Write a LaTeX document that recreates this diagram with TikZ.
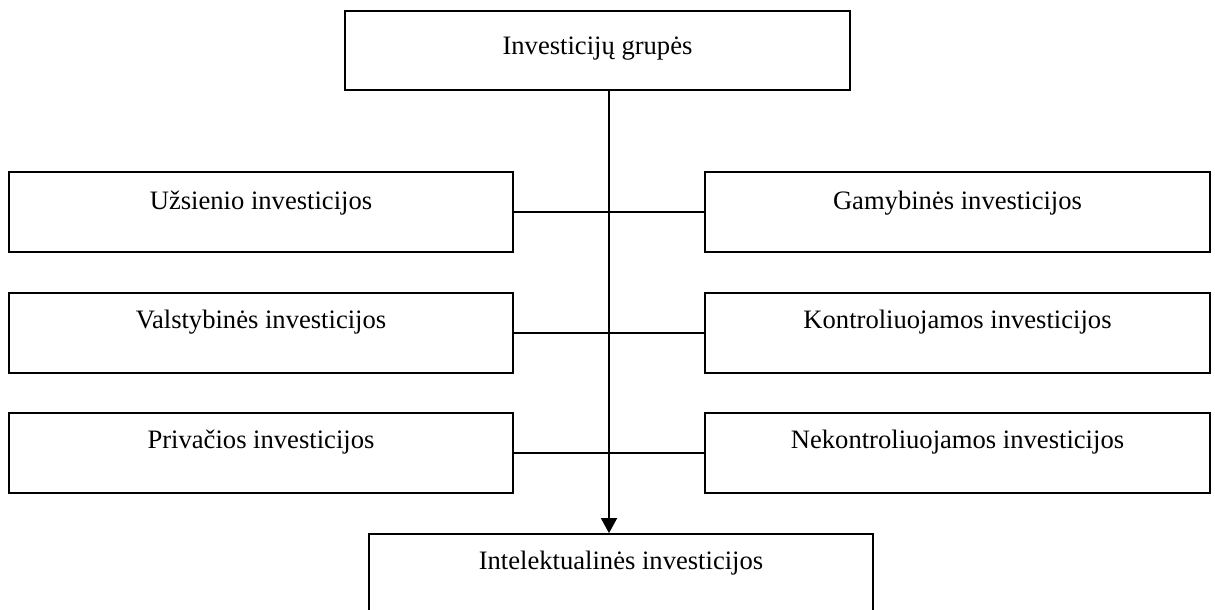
\documentclass[tikz,border=0pt]{standalone}
\usepackage{fontspec}
\setmainfont{Liberation Serif}
\usetikzlibrary{arrows.meta}
\begin{document}
\begin{tikzpicture}[x=1pt,y=-1pt,
  box/.style={draw=black,line width=1.8pt,rectangle,inner xsep=0pt,inner ysep=0pt,
    minimum width=504pt,minimum height=80pt,
    font=\fontsize{26.6}{32}\selectfont,text height=37pt,text depth=43pt},
  link/.style={draw=black,line width=1.8pt},
  flow/.style={link,-{Triangle[length=15pt,width=16pt]}}]
\useasboundingbox (0,0) rectangle (1215,610);
% heading box
\node[box,minimum width=505pt,minimum height=79pt,text height=44pt,text depth=35pt]
  (top) at (597.5,50.5) {Investicijų grupės};
% left column
\node[box] (l1) at (261,212) {Užsienio investicijos};
\node[box,text height=35pt,text depth=45pt] (l2) at (261,333) {Valstybinės investicijos};
\node[box,text height=35pt,text depth=45pt] (l3) at (261,453) {Privačios investicijos};
% right column
\node[box,minimum width=505pt] (r1) at (957.5,212) {Gamybinės investicijos};
\node[box,minimum width=505pt,text height=35pt,text depth=45pt] (r2) at (957.5,333) {Kontroliuojamos investicijos};
\node[box,minimum width=505pt,text height=35pt,text depth=45pt] (r3) at (957.5,453) {Nekontroliuojamos investicijos};
% result box, running past the lower edge
\node[box,minimum height=86pt,text height=35pt,text depth=51pt] (bot) at (621,577) {Intelektualinės investicijos};
% trunk and cross links
\coordinate (trunk) at (609,0);
\draw[flow] (top.south -| trunk) -- (bot.north -| trunk);
\draw[link] (l1.east) -- (r1.west);
\draw[link] (l2.east) -- (r2.west);
\draw[link] (l3.east) -- (r3.west);
\end{tikzpicture}
\end{document}
